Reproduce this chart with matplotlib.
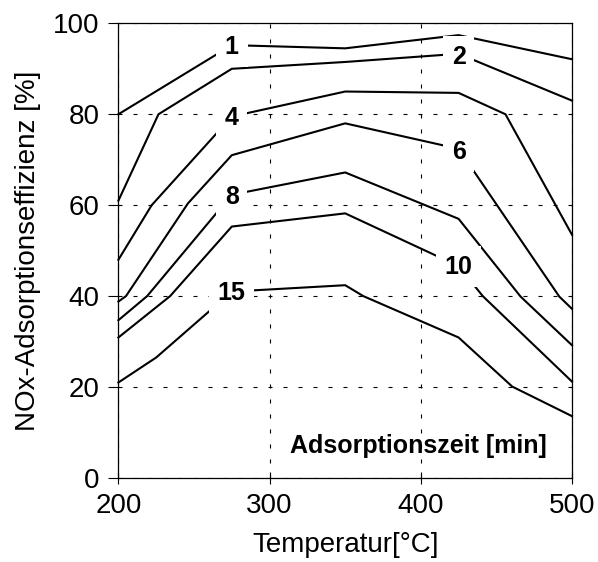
import matplotlib
matplotlib.use("Agg")
import matplotlib.pyplot as plt

plt.rcParams['font.family'] = ['Liberation Sans', 'DejaVu Sans']

# adsorption time [min] of each isoline
times = ["1", "2", "4", "6", "8", "10", "15"]

# temperature [°C] / efficiency [%] points of each line
t_1 = [200, 275, 350, 425, 500]
e_1 = [80.0, 95.2, 94.5, 97.4, 92.1]

t_2 = [200, 226.5, 275, 350, 425, 500]
e_2 = [61.0, 80.0, 90.0, 91.5, 93.3, 83.0]

t_4 = [200, 222, 275, 350, 425, 456, 500]
e_4 = [48.0, 60.0, 79.5, 85.0, 84.7, 80.0, 53.5]

t_6 = [200, 205, 246, 275, 350, 425, 491.6, 500]
e_6 = [38.8, 40.0, 60.4, 71.0, 78.0, 72.4, 39.9, 37.2]

t_8 = [200, 219, 275, 350, 425, 466, 500]
e_8 = [34.7, 40.0, 62.3, 67.2, 57.0, 39.9, 29.2]

t_10 = [200, 234.2, 275, 350, 425, 441, 500]
e_10 = [30.9, 40.0, 55.3, 58.2, 46.6, 40.0, 21.2]

t_15 = [200, 225, 275, 350, 362, 425, 460.5, 500]
e_15 = [21.0, 26.5, 41.0, 42.4, 40.0, 30.9, 20.1, 13.6]

temps = [t_1, t_2, t_4, t_6, t_8, t_10, t_15]
effs = [e_1, e_2, e_4, e_6, e_8, e_10, e_15]

# where the time labels sit on the lines
label_x = [275, 425, 275, 425, 275, 425, 275]
label_y = [94.9, 92.7, 79.1, 71.8, 61.9, 46.5, 40.6]

fig = plt.figure(figsize=(5.98, 5.62), dpi=100)
ax = fig.add_axes([0.198, 0.1495, 0.7585, 0.809])

for t, e in zip(temps, effs):
    ax.plot(t, e, color='black', lw=1.5, zorder=2, clip_on=False)

for lab, lx, ly in zip(times, label_x, label_y):
    ax.text(lx, ly, lab, fontsize=18, fontweight='bold', ha='center', va='center',
            zorder=3, bbox=dict(boxstyle='square,pad=0.35', fc='white', ec='none'))

ax.text(483, 5.6, "Adsorptionszeit [min]", fontsize=18, fontweight='bold',
        ha='right', va='baseline', zorder=3)

ax.set_xlim(200, 500)
ax.set_ylim(0, 100)
ax.set_xticks([200, 300, 400, 500])
ax.set_yticks([0, 20, 40, 60, 80, 100])
ax.grid(True, color='black', lw=0.8, ls=(0, (3.6, 9.9)), zorder=1)
ax.set_axisbelow(True)

for s in ax.spines.values():
    s.set_linewidth(0.9)
ax.tick_params(axis='x', direction='inout', length=9, width=0.8, labelsize=20, pad=6)
ax.tick_params(axis='y', direction='out', length=7, width=0.8, labelsize=20, pad=6.5)

ax.set_xlabel("Temperatur[°C]", fontsize=20, labelpad=10)
ax.set_ylabel("NOx-Adsorptionseffizienz [%]", fontsize=20, labelpad=9)

fig.savefig("out.png", dpi=100)
